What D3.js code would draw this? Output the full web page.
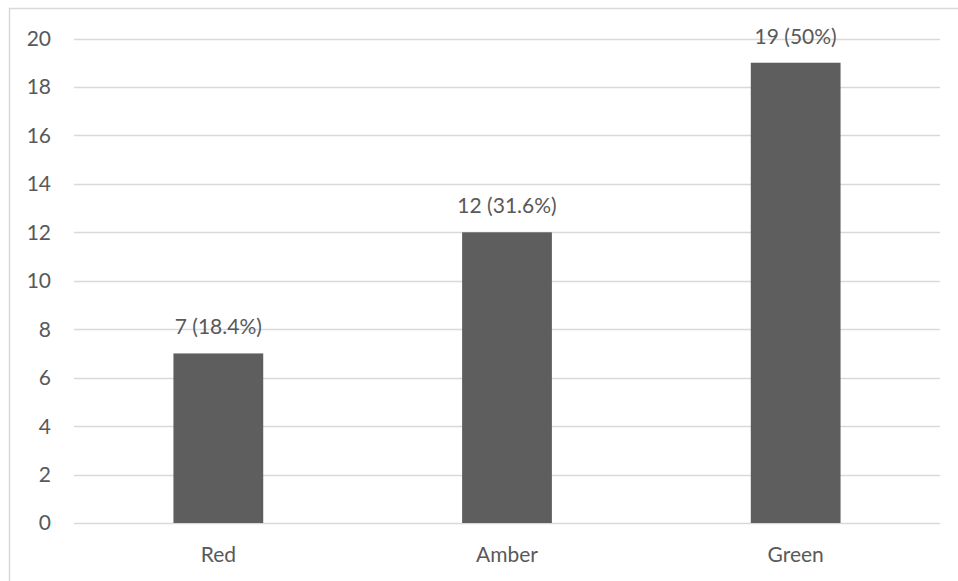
<!DOCTYPE html>
<html>
<head>
<meta charset="utf-8">
<script src="https://cdn.jsdelivr.net/npm/d3@7"></script>
<style>
  html, body { margin: 0; padding: 0; background: #fff; }
  svg { display: block; }
  text { font-family: Lato, "Open Sans", sans-serif; fill: #595959; }
</style>
</head>
<body>
<svg id="chart" width="958" height="581"></svg>
<script>
// RAG status counts
const categories = ["Red", "Amber", "Green"];
const counts = [7, 12, 19];
const percents = ["18.4%", "31.6%", "50%"];
const yTicks = [0, 2, 4, 6, 8, 10, 12, 14, 16, 18, 20];

const W = 958, H = 581;
const FS = 21;
const margin = { left: 74, right: 18, top: 38.5, bottom: 58 };
const svg = d3.select("#chart");

// outer frame
svg.append("rect")
  .attr("x", 9.5).attr("y", 8.5)
  .attr("width", W + 10).attr("height", H + 10)
  .attr("fill", "none").attr("stroke", "#d9d9d9").attr("stroke-width", 1.5);

const x = d3.scaleBand()
  .domain(categories)
  .range([margin.left, W - margin.right])
  .paddingInner(0.689).paddingOuter(0.3445);

const y = d3.scaleLinear()
  .domain([0, 20])
  .range([H - margin.bottom, margin.top]);

// horizontal gridlines
svg.append("g")
  .selectAll("line")
  .data(yTicks)
  .join("line")
  .attr("x1", margin.left).attr("x2", W - margin.right)
  .attr("y1", d => Math.round(y(d)) + 0.5).attr("y2", d => Math.round(y(d)) + 0.5)
  .attr("stroke", "#d9d9d9").attr("stroke-width", 1.5);

// y axis labels
const yAxis = d3.axisLeft(y).tickValues(yTicks).tickSize(0).tickPadding(0);
const gy = svg.append("g").attr("transform", `translate(${51},0)`).call(yAxis);
gy.select(".domain").remove();
gy.selectAll("text")
  .attr("font-size", FS)
  .attr("font-family", "Lato, sans-serif")
  .attr("fill", "#595959")
  .attr("dy", "0.33em");

// bars
svg.append("g")
  .selectAll("rect")
  .data(categories)
  .join("rect")
  .attr("x", d => x(d))
  .attr("width", x.bandwidth())
  .attr("y", (d, i) => y(counts[i]))
  .attr("height", (d, i) => y(0) - y(counts[i]))
  .attr("fill", "#5e5e5e");

// value labels
svg.append("g")
  .selectAll("text")
  .data(categories)
  .join("text")
  .attr("x", d => x(d) + x.bandwidth() / 2)
  .attr("y", (d, i) => y(counts[i]) - 19)
  .attr("text-anchor", "middle")
  .attr("font-size", FS)
  .text((d, i) => `${counts[i]} (${percents[i]})`);

// category axis
const xAxis = d3.axisBottom(x).tickSize(0).tickPadding(0);
const gx = svg.append("g").attr("transform", `translate(0,${y(0)})`).call(xAxis);
gx.select(".domain").remove();
gx.selectAll("text")
  .attr("font-size", FS)
  .attr("font-family", "Lato, sans-serif")
  .attr("fill", "#595959")
  .attr("dy", 0)
  .attr("y", 38.5);
</script>
</body>
</html>
